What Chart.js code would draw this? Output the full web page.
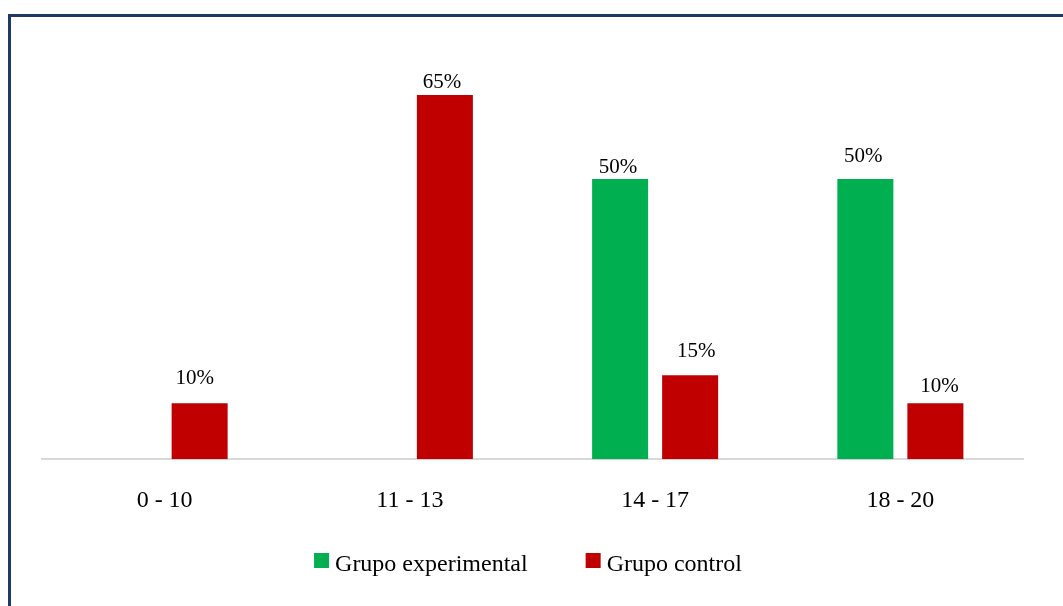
<!DOCTYPE html>
<html>
<head>
<meta charset="utf-8">
<script src="https://cdn.jsdelivr.net/npm/chart.js@4.4.0/dist/chart.umd.min.js"></script>
<style>
  html, body { margin: 0; padding: 0; background: #ffffff; overflow: hidden; }
  #marco {
    position: absolute; left: 8px; top: 14px;
    width: 1120px; height: 660px;
    border: 3px solid #1f3868;
  }
  #lienzo { position: absolute; left: 0; top: 0; }
</style>
</head>
<body>
<div id="marco"></div>
<canvas id="lienzo" width="1063" height="606"></canvas>
<script>
// datos del grafico
var rangos = ["0 - 10", "11 - 13", "14 - 17", "18 - 20"];
var grupoExperimental = [0, 0, 50, 50];
var grupoControl = [10, 65, 15, 10];
var nombresSeries = ["Grupo experimental", "Grupo control"];
var coloresSeries = ["#00b050", "#c00000"];

var fuente = '"Liberation Serif", "Times New Roman", serif';

// ajuste manual de cada etiqueta [dx, separacion sobre la barra], como en el original
var ajusteEtiquetas = [
  [[0, 6], [0, 6], [-2, 6], [-2, 17]],
  [[-5, 19], [-3, 7], [6, 18], [4, 11]]
];

// etiquetas de porcentaje encima de cada barra (no se muestran los ceros)
var etiquetasBarras = {
  id: 'etiquetasBarras',
  afterDatasetsDraw: function(chart){
    var ctx = chart.ctx;
    ctx.save();
    ctx.font = '21px ' + fuente;
    ctx.fillStyle = '#000000';
    ctx.textAlign = 'center';
    ctx.textBaseline = 'alphabetic';
    chart.data.datasets.forEach(function(ds, i){
      var meta = chart.getDatasetMeta(i);
      meta.data.forEach(function(bar, j){
        if (!ds.data[j]) return;
        var aj = ajusteEtiquetas[i][j];
        ctx.fillText(ds.data[j] + '%', bar.x + aj[0], bar.y - aj[1]);
      });
    });
    ctx.restore();
  }
};

// leyenda dibujada a mano debajo del eje
var leyendaAbajo = {
  id: 'leyendaAbajo',
  afterDraw: function(chart){
    var ctx = chart.ctx;
    ctx.save();
    ctx.font = '24px ' + fuente;
    var caja = 15, sep = 6, entre = 58;
    var anchos = nombresSeries.map(function(t){ return ctx.measureText(t).width; });
    var total = 0;
    anchos.forEach(function(w, i){ total += caja + sep + w + (i < anchos.length - 1 ? entre : 0); });
    var x = 528 - total / 2;
    var yCaja = 553;
    ctx.textBaseline = 'alphabetic';
    ctx.textAlign = 'left';
    nombresSeries.forEach(function(t, i){
      ctx.fillStyle = coloresSeries[i];
      ctx.fillRect(x, yCaja, caja, caja);
      ctx.fillStyle = '#000000';
      ctx.fillText(t, x + caja + sep, 571);
      x += caja + sep + anchos[i] + entre;
    });
    ctx.restore();
  }
};

var ctx = document.getElementById('lienzo').getContext('2d');
var grafico = new Chart(ctx, {
  type: 'bar',
  data: {
    labels: rangos,
    datasets: [
      { label: nombresSeries[0], data: grupoExperimental, backgroundColor: coloresSeries[0],
        categoryPercentage: 0.571, barPercentage: 0.8 },
      { label: nombresSeries[1], data: grupoControl, backgroundColor: coloresSeries[1],
        categoryPercentage: 0.571, barPercentage: 0.8 }
    ]
  },
  options: {
    responsive: false,
    animation: false,
    layout: { padding: { left: 42, right: 40, top: 67, bottom: 72 } },
    plugins: {
      legend: { display: false },
      tooltip: { enabled: false }
    },
    scales: {
      y: { display: false, min: 0, max: 70 },
      x: {
        grid: { display: false },
        border: { display: true, color: '#d9d9d9', width: 2 },
        ticks: { color: '#000000', padding: 19, font: { family: fuente, size: 24 } }
      }
    }
  },
  plugins: [etiquetasBarras, leyendaAbajo]
});
</script>
</body>
</html>
